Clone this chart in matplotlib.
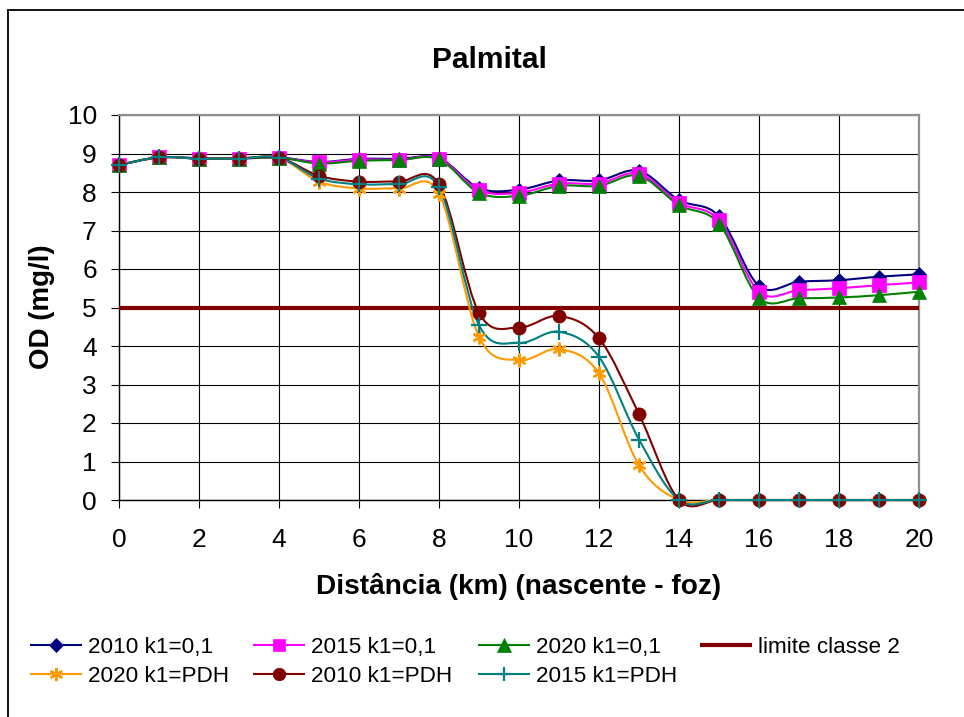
import matplotlib
matplotlib.use("Agg")
import matplotlib.pyplot as plt
from matplotlib.path import Path
from matplotlib.patches import PathPatch, Rectangle
from matplotlib.lines import Line2D
import numpy as np

plt.rcParams['font.family'] = ['Liberation Sans', 'DejaVu Sans']

# Distance from the source (km)
dist_km = list(range(0, 21))

# Dissolved oxygen (mg/l), k1 = 0,1
od_2010_k01 = [8.70, 8.90, 8.88, 8.88, 8.90, 8.78, 8.86, 8.86, 8.88, 8.10, 8.06,
               8.30, 8.30, 8.55, 7.79, 7.37, 5.56, 5.67, 5.71, 5.80, 5.86]
od_2015_k01 = [8.70, 8.90, 8.87, 8.87, 8.89, 8.77, 8.84, 8.84, 8.87, 8.05, 7.98,
               8.22, 8.22, 8.48, 7.72, 7.27, 5.41, 5.45, 5.50, 5.58, 5.65]
od_2020_k01 = [8.70, 8.90, 8.87, 8.87, 8.89, 8.74, 8.81, 8.83, 8.85, 7.98, 7.90,
               8.16, 8.16, 8.42, 7.66, 7.18, 5.25, 5.24, 5.26, 5.32, 5.41]

# Dissolved oxygen (mg/l), k1 = PDH
od_2020_pdh = [8.70, 8.90, 8.87, 8.87, 8.89, 8.27, 8.09, 8.09, 7.96, 4.24, 3.63,
               3.92, 3.29, 0.90, 0, 0, 0, 0, 0, 0, 0]
od_2010_pdh = [8.70, 8.90, 8.87, 8.87, 8.89, 8.42, 8.27, 8.27, 8.20, 4.86, 4.48,
               4.78, 4.20, 2.23, 0, 0, 0, 0, 0, 0, 0]
od_2015_pdh = [8.70, 8.90, 8.87, 8.87, 8.89, 8.35, 8.20, 8.20, 8.12, 4.54, 4.08,
               4.37, 3.72, 1.57, 0, 0, 0, 0, 0, 0, 0]

# Class 2 limit
limite_classe2 = 5.0

W, H = 964, 717
fig = plt.figure(figsize=(W / 100, H / 100), dpi=100)
ax = fig.add_axes([119 / W, 1 - 500 / H, 800 / W, 385 / H])

# Outer chart frame
fig.patches.append(Rectangle((8 / W, -0.2), 1.2, 1.2 - 10 / H,
                             transform=fig.transFigure, fill=False,
                             edgecolor='black', linewidth=1.3, zorder=0))


def smooth_curve(ax, x, y, color, lw):
    """Draw a smoothed (Catmull-Rom style Bezier) line through the points."""
    pts = np.column_stack([x, y]).astype(float)
    n = len(pts)
    verts = [tuple(pts[0])]
    codes = [Path.MOVETO]
    for i in range(n - 1):
        p0 = pts[max(i - 1, 0)]
        p1 = pts[i]
        p2 = pts[i + 1]
        p3 = pts[min(i + 2, n - 1)]
        c1 = p1 + (p2 - p0) / 6.0
        c2 = p2 - (p3 - p1) / 6.0
        verts += [tuple(c1), tuple(c2), tuple(p2)]
        codes += [Path.CURVE4] * 3
    patch = PathPatch(Path(verts, codes), fill=False, edgecolor=color,
                      linewidth=lw, transform=ax.transData, clip_on=False,
                      zorder=3, capstyle='round', joinstyle='round')
    ax.add_patch(patch)


series = [
    ("2010 k1=0,1", od_2010_k01, '#000080', 'D', 7.5),
    ("2015 k1=0,1", od_2015_k01, '#FF00FF', 's', 9.5),
    ("2020 k1=0,1", od_2020_k01, '#008000', '^', 10.0),
    ("limite classe 2", None, '#800000', None, 0),
    ("2020 k1=PDH", od_2020_pdh, '#FF9900', (6, 2, 0), 10.0),
    ("2010 k1=PDH", od_2010_pdh, '#800000', 'o', 9.5),
    ("2015 k1=PDH", od_2015_pdh, '#008080', '+', 11.0),
]

# Legend layout (figure pixels): 4 columns, 2 rows
leg_cols = [30, 253, 478, 700]
leg_rows = [645, 674]
leg_line = 52

for k, (label, vals, color, marker, ms) in enumerate(series):
    if vals is None:
        ax.plot([dist_km[0], dist_km[-1]], [limite_classe2] * 2, color=color,
                linewidth=3.0, solid_capstyle='butt', zorder=3, clip_on=False)
        lw, mk = 3.0, None
        mew = 0
    else:
        smooth_curve(ax, dist_km, vals, color, 1.5)
        mew = 1.6 if marker in ('+', (6, 2, 0)) else 0.5
        ax.plot(dist_km, vals, linestyle='none', marker=marker, markersize=ms,
                markerfacecolor=color, markeredgecolor=color,
                markeredgewidth=mew, zorder=4, clip_on=False)
        lw, mk = 1.5, marker

    col, row = k % 4, k // 4
    x0 = leg_cols[col]
    yy = 1 - leg_rows[row] / H
    fig.add_artist(Line2D([x0 / W, (x0 + leg_line) / W], [yy, yy],
                          transform=fig.transFigure, color=color, linewidth=lw,
                          solid_capstyle='butt'))
    if mk is not None:
        fig.add_artist(Line2D([(x0 + leg_line / 2) / W], [yy],
                              transform=fig.transFigure, linestyle='none',
                              marker=mk, markersize=ms * 0.95,
                              markerfacecolor=color, markeredgecolor=color,
                              markeredgewidth=mew))
    fig.text((x0 + leg_line + 6) / W, yy, label, fontsize=16.2,
             ha='left', va='center_baseline')

ax.set_xlim(0, 20)
ax.set_ylim(0, 10)
ax.set_xticks(range(0, 21, 2))
ax.set_yticks(range(0, 11, 1))
ax.grid(True, color='black', linewidth=0.8, zorder=1)
ax.set_axisbelow(True)
ax.tick_params(axis='both', direction='out', length=6, width=0.8,
               colors='black', labelsize=19, pad=10)
ax.tick_params(axis='x', pad=14)

for side in ('left', 'bottom'):
    ax.spines[side].set_color('black')
    ax.spines[side].set_linewidth(1.0)
for side in ('top', 'right'):
    ax.spines[side].set_color('#909090')
    ax.spines[side].set_linewidth(1.6)

fig.text(489 / W, 1 - 60 / H, "Palmital", fontsize=21.5, fontweight='bold',
         ha='center', va='center')
fig.text(519 / W, 1 - 587 / H, "Distância (km) (nascente - foz)", fontsize=20.2,
         fontweight='bold', ha='center', va='center')
fig.text(42 / W, 1 - 307 / H, "OD (mg/l)", fontsize=20, fontweight='bold',
         ha='center', va='center', rotation=90)

fig.savefig("out.png", dpi=100)
